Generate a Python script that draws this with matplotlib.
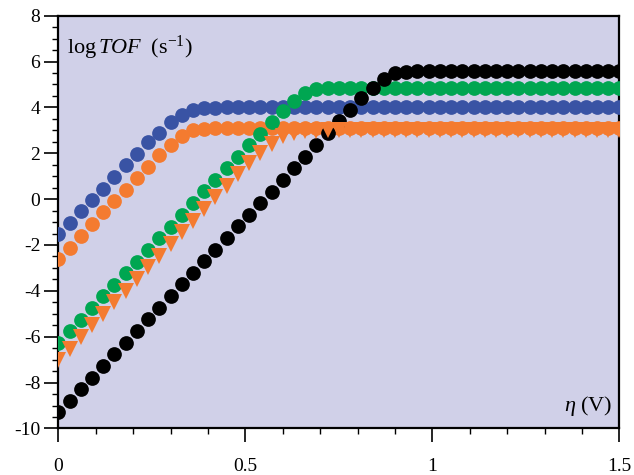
import matplotlib
matplotlib.use("Agg")
import matplotlib.pyplot as plt
from matplotlib.ticker import MultipleLocator, FixedLocator

plt.rcParams['font.family'] = ['Liberation Serif', 'DejaVu Serif']
plt.rcParams['mathtext.fontset'] = 'custom'
plt.rcParams['mathtext.rm'] = 'Liberation Serif'
plt.rcParams['mathtext.it'] = 'Liberation Serif:italic'
plt.rcParams['axes.unicode_minus'] = False

# overpotential (V), 0 to 1.5 in steps of 0.03
eta = [round(0.03 * i, 2) for i in range(51)]

blue = [-1.54, -1.03, -0.52, -0.03, 0.46, 0.98, 1.50, 1.98, 2.47, 2.90,
        3.38, 3.68, 3.90, 3.97, 3.99, 4.0, 4.0, 4.0, 4.0, 4.0,
        4.0, 4.0, 4.0, 4.0, 4.0, 4.0, 4.0, 4.0, 4.0, 4.0,
        4.0, 4.0, 4.0, 4.0, 4.0, 4.0, 4.0, 4.0, 4.0, 4.0,
        4.0, 4.0, 4.0, 4.0, 4.0, 4.0, 4.0, 4.0, 4.0, 4.0, 4.0]

orange_c = [-2.63, -2.12, -1.60, -1.08, -0.58, -0.09, 0.40, 0.91, 1.42, 1.91,
            2.36, 2.77, 3.00, 3.08, 3.11, 3.12, 3.12, 3.12, 3.12, 3.12,
            3.12, 3.12, 3.12, 3.12, 3.12, 3.12, 3.12, 3.12, 3.12, 3.12,
            3.12, 3.12, 3.12, 3.12, 3.12, 3.12, 3.12, 3.12, 3.12, 3.12,
            3.12, 3.12, 3.12, 3.12, 3.12, 3.12, 3.12, 3.12, 3.12, 3.12, 3.12]

green = [-6.27, -5.76, -5.26, -4.75, -4.24, -3.74, -3.23, -2.72, -2.21, -1.71,
         -1.20, -0.69, -0.19, 0.34, 0.84, 1.34, 1.83, 2.35, 2.86, 3.37,
         3.84, 4.29, 4.62, 4.79, 4.84, 4.86, 4.86, 4.86, 4.86, 4.86,
         4.86, 4.86, 4.86, 4.86, 4.86, 4.86, 4.86, 4.86, 4.86, 4.86,
         4.86, 4.86, 4.86, 4.86, 4.86, 4.86, 4.86, 4.86, 4.86, 4.86, 4.86]

orange_t = [-7.03, -6.52, -6.02, -5.51, -5.00, -4.50, -3.99, -3.48, -2.97, -2.47,
            -1.96, -1.45, -0.95, -0.44, 0.08, 0.59, 1.10, 1.57, 2.02, 2.42,
            2.74, 2.89, 2.96, 2.99, 3.0, 3.0, 3.0, 3.0, 3.0, 3.0,
            3.0, 3.0, 3.0, 3.0, 3.0, 3.0, 3.0, 3.0, 3.0, 3.0,
            3.0, 3.0, 3.0, 3.0, 3.0, 3.0, 3.0, 3.0, 3.0, 3.0, 3.0]

black = [-9.30, -8.79, -8.29, -7.78, -7.27, -6.77, -6.26, -5.75, -5.24, -4.74,
         -4.23, -3.72, -3.22, -2.71, -2.20, -1.70, -1.19, -0.68, -0.17, 0.33,
         0.84, 1.35, 1.85, 2.37, 2.90, 3.42, 3.90, 4.39, 4.86, 5.26,
         5.48, 5.56, 5.59, 5.6, 5.6, 5.6, 5.6, 5.6, 5.6, 5.6,
         5.6, 5.6, 5.6, 5.6, 5.6, 5.6, 5.6, 5.6, 5.6, 5.6, 5.6]

xticks = [0, 0.5, 1, 1.5]
xticklabels = ['0', '0.5', '1', '1.5']
yticks = [-10, -8, -6, -4, -2, 0, 2, 4, 6, 8]

C_BLUE = '#3953A4'
C_ORANGE = '#F47B30'
C_GREEN = '#00A651'
C_BLACK = '#000000'

fig = plt.figure(figsize=(6.34, 4.75), dpi=100)
ax = fig.add_axes([0.092, 0.098, 0.885, 0.869])
ax.set_facecolor('#D0D0E8')

ms = 10.6
ax.plot(eta, blue, 'o', color=C_BLUE, ms=ms, mew=0, zorder=3)
ax.plot(eta, orange_c, 'o', color=C_ORANGE, ms=ms, mew=0, zorder=4)
ax.plot(eta, green, 'o', color=C_GREEN, ms=ms, mew=0, zorder=5)
ax.plot(eta, black, 'o', color=C_BLACK, ms=ms, mew=0, zorder=6)
ax.plot(eta, orange_t, 'v', color=C_ORANGE, ms=11.0, mew=0, zorder=7)

ax.set_xlim(0, 1.5)
ax.set_ylim(-10, 8)
ax.xaxis.set_major_locator(FixedLocator(xticks))
ax.set_xticklabels(xticklabels)
ax.xaxis.set_minor_locator(MultipleLocator(0.1))
ax.yaxis.set_major_locator(FixedLocator(yticks))
ax.yaxis.set_minor_locator(MultipleLocator(0.5))

for s in ax.spines.values():
    s.set_linewidth(1.6)
ax.tick_params(which='major', direction='out', length=10, width=1.2,
               labelsize=14)
ax.tick_params(which='minor', direction='out', length=4.5, width=1.0)
ax.tick_params(axis='x', which='major', pad=11)
ax.tick_params(axis='y', which='major', pad=3)

ax.text(0.015, 0.955, r'$\mathrm{log}\,\mathit{TOF}\ \ (\mathrm{s}^{-1})$',
        transform=ax.transAxes, ha='left', va='top', fontsize=16)
ax.text(0.988, 0.025, r'$\mathit{\eta}\ (\mathrm{V})$',
        transform=ax.transAxes, ha='right', va='bottom', fontsize=16)

fig.savefig('out.png', dpi=100)
